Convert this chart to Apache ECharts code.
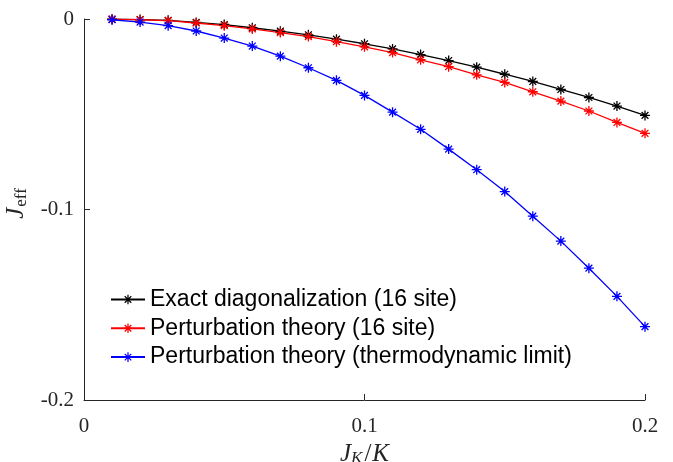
<!DOCTYPE html>
<html><head><meta charset="utf-8">
<script src="https://cdn.jsdelivr.net/npm/echarts@6/dist/echarts.min.js"></script>
<style>html,body{margin:0;padding:0;background:#fff}#c{width:673px;height:462px}</style>
</head><body><div id="c"></div>
<script>
const xValues = [0.01,0.02,0.03,0.04,0.05,0.06,0.07,0.08,0.09,0.10,0.11,0.12,0.13,0.14,0.15,0.16,0.17,0.18,0.19,0.20];
const exactDiag = [-0.0001,-0.0003,-0.0007,-0.0018,-0.0029,-0.0046,-0.0064,-0.0083,-0.0106,-0.0130,-0.0157,-0.0187,-0.0218,-0.0253,-0.0290,-0.0328,-0.0370,-0.0412,-0.0457,-0.0506];
const pert16 = [-0.0001,-0.0004,-0.0009,-0.0021,-0.0035,-0.0052,-0.0071,-0.0092,-0.0119,-0.0146,-0.0176,-0.0214,-0.0250,-0.0293,-0.0333,-0.0382,-0.0431,-0.0483,-0.0543,-0.0600];
const pertThermo = [-0.0004,-0.0016,-0.0035,-0.0063,-0.0100,-0.0142,-0.0195,-0.0256,-0.0322,-0.0401,-0.0489,-0.0579,-0.0683,-0.0791,-0.0906,-0.1035,-0.1166,-0.1308,-0.1456,-0.1615];
const seriesNames = ['Exact diagonalization (16 site)','Perturbation theory (16 site)','Perturbation theory (thermodynamic limit)'];
const seriesColors = ['#000000','#ff0000','#0000ff'];
const xTicks = [0, 0.1, 0.2];
const yTicks = [-0.2, -0.1, 0];

const star = 'path://M4.35,0L5.65,0L5.65,10L4.35,10Z' +
  'M0,4.35L10,4.35L10,5.65L0,5.65Z' +
  'M2.06,1.14L8.86,7.94L7.94,8.86L1.14,2.06Z' +
  'M1.14,7.94L7.94,1.14L8.86,2.06L2.06,8.86Z';
const axisColor = '#262626';
const serif = 'Liberation Serif';

function mk(name, vals, color) {
  return {
    name: name, type: 'line',
    data: xValues.map((x, i) => [x, vals[i]]),
    symbol: star, symbolSize: 10, showSymbol: true,
    lineStyle: {color: color, width: 1.3},
    itemStyle: {color: color},
    animation: false
  };
}

const chart = echarts.init(document.getElementById('c'));
chart.setOption({
  backgroundColor: '#fff',
  animation: false,
  grid: {left: 84, right: 28, top: 19, bottom: 62, containLabel: false, outerBoundsMode: 'none'},
  xAxis: {
    type: 'value', min: xTicks[0], max: xTicks[xTicks.length-1], interval: 0.1,
    name: '{i|J}{s|K}{n|/}{i|K}', nameLocation: 'middle', nameGap: 30,
    nameTextStyle: {rich: {
      i: {fontFamily: serif, fontStyle: 'italic', fontSize: 25, color: axisColor},
      s: {fontFamily: serif, fontStyle: 'italic', fontSize: 17, color: axisColor, verticalAlign: 'bottom', padding: [7,1,0,0]},
      n: {fontFamily: serif, fontSize: 25, color: axisColor, padding: [0,1,0,1]}
    }},
    axisLine: {show: true, onZero: false, lineStyle: {color: axisColor, width: 1}},
    axisTick: {show: true, inside: true, length: 6, lineStyle: {color: axisColor}},
    axisLabel: {fontFamily: serif, fontSize: 21, color: axisColor, margin: 16,
      formatter: v => String(Math.round(v*10)/10)},
    splitLine: {show: false}
  },
  yAxis: {
    type: 'value', min: yTicks[0], max: yTicks[yTicks.length-1], interval: 0.1,
    name: '{i|J}{s|eff}', nameLocation: 'middle', nameGap: 52, nameRotate: 90,
    nameTextStyle: {padding: [0,0,0,12], rich: {
      i: {fontFamily: serif, fontStyle: 'italic', fontSize: 25, color: axisColor},
      s: {fontFamily: serif, fontSize: 17, color: axisColor, verticalAlign: 'bottom', padding: [10,0,0,1]}
    }},
    axisLine: {show: true, onZero: false, lineStyle: {color: axisColor, width: 1}},
    axisTick: {show: true, inside: true, length: 6, lineStyle: {color: axisColor}},
    axisLabel: {fontFamily: serif, fontSize: 21, color: axisColor, margin: 10,
      formatter: v => String(Math.round(v*10)/10)},
    splitLine: {show: false}
  },
  legend: {
    left: 110, top: 288, orient: 'vertical', padding: 0,
    itemWidth: 34, itemHeight: 12, itemGap: 5.8,
    textStyle: {fontFamily: 'Liberation Sans', fontSize: 23, lineHeight: 22, color: '#000'},
    data: seriesNames
  },
  series: [
    mk(seriesNames[0], exactDiag, seriesColors[0]),
    mk(seriesNames[1], pert16, seriesColors[1]),
    mk(seriesNames[2], pertThermo, seriesColors[2])
  ]
});
</script></body></html>
